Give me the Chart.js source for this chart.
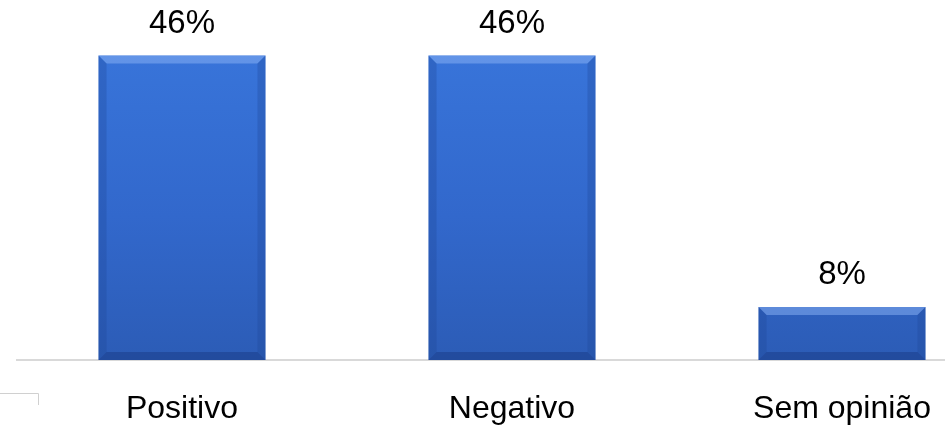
<!DOCTYPE html>
<html>
<head>
<meta charset="utf-8">
<script src="https://cdn.jsdelivr.net/npm/chart.js@4"></script>
<style>
  html, body { margin: 0; padding: 0; background: #fff; overflow: hidden; }
  #wrap { width: 1007px; height: 429px; position: relative; }
</style>
</head>
<body>
<div id="wrap"><canvas id="opiniaoChart"></canvas></div>
<script>
// Dados do gráfico
const categorias = ['Positivo', 'Negativo', 'Sem opinião'];
const valores = [46, 46, 8];
const rotulos = ['46%', '46%', '8%'];

// Gradiente vertical das barras
function barGradient(context) {
    const area = context.chart.chartArea;
    if (!area) return '#3571d8';
    const g = context.chart.ctx.createLinearGradient(0, area.top, 0, area.bottom);
    g.addColorStop(0, '#3a78de');
    g.addColorStop(0.6, '#3268cc');
    g.addColorStop(1, '#2c5cb6');
    return g;
}

// Efeito de bisel e rótulos de valor
const bevelPlugin = {
    id: 'bevel',
    afterDatasetsDraw(chart) {
        const ctx = chart.ctx;
        const meta = chart.getDatasetMeta(0);
        meta.data.forEach((bar, i) => {
            const left = bar.x - bar.width / 2, right = bar.x + bar.width / 2;
            const top = bar.y, bottom = bar.base;
            const b = 8;
            ctx.save();
            // faixa superior clara
            ctx.fillStyle = 'rgba(140,180,245,0.5)';
            ctx.beginPath();
            ctx.moveTo(left, top); ctx.lineTo(right, top);
            ctx.lineTo(right - b, top + b); ctx.lineTo(left + b, top + b);
            ctx.closePath(); ctx.fill();
            // laterais
            ctx.fillStyle = 'rgba(30,70,150,0.3)';
            ctx.beginPath();
            ctx.moveTo(left, top); ctx.lineTo(left + b, top + b);
            ctx.lineTo(left + b, bottom - b); ctx.lineTo(left, bottom);
            ctx.closePath(); ctx.fill();
            ctx.beginPath();
            ctx.moveTo(right, top); ctx.lineTo(right - b, top + b);
            ctx.lineTo(right - b, bottom - b); ctx.lineTo(right, bottom);
            ctx.closePath(); ctx.fill();
            // faixa inferior escura
            ctx.fillStyle = 'rgba(20,50,120,0.4)';
            ctx.beginPath();
            ctx.moveTo(left, bottom); ctx.lineTo(right, bottom);
            ctx.lineTo(right - b, bottom - b); ctx.lineTo(left + b, bottom - b);
            ctx.closePath(); ctx.fill();
            // rótulo
            ctx.fillStyle = '#000';
            ctx.font = '33px "Liberation Sans", Arial, sans-serif';
            ctx.textAlign = 'center';
            ctx.textBaseline = 'middle';
            ctx.fillText(rotulos[i], bar.x, top - 32);
            ctx.restore();
        });
        // pequeno canto no rodapé à esquerda
        ctx.save();
        ctx.strokeStyle = '#d0d0d0';
        ctx.lineWidth = 1;
        ctx.beginPath();
        ctx.moveTo(0, 393.5); ctx.lineTo(38.5, 393.5); ctx.lineTo(38.5, 405);
        ctx.stroke();
        ctx.restore();
    }
};

const ctx = document.getElementById('opiniaoChart').getContext('2d');
const opiniaoChart = new Chart(ctx, {
    type: 'bar',
    data: {
        labels: categorias,
        datasets: [{
            data: valores,
            backgroundColor: barGradient,
            borderWidth: 0,
            categoryPercentage: 1,
            barPercentage: 0.506
        }]
    },
    options: {
        responsive: true,
        maintainAspectRatio: false,
        animation: false,
        layout: { padding: { left: 17, right: 0, top: 0, bottom: 0 } },
        plugins: { legend: { display: false }, tooltip: { enabled: false } },
        scales: {
            y: { display: false, min: 0, max: 54.4 },
            x: {
                grid: { display: false, drawTicks: false },
                border: { color: '#d9d9d9', width: 2 },
                afterFit(scale) { scale.height = 69; },
                ticks: {
                    color: '#000',
                    padding: 30,
                    font: { size: 32, family: '"Liberation Sans", Arial, sans-serif' }
                }
            }
        }
    },
    plugins: [bevelPlugin]
});
</script>
</body>
</html>
